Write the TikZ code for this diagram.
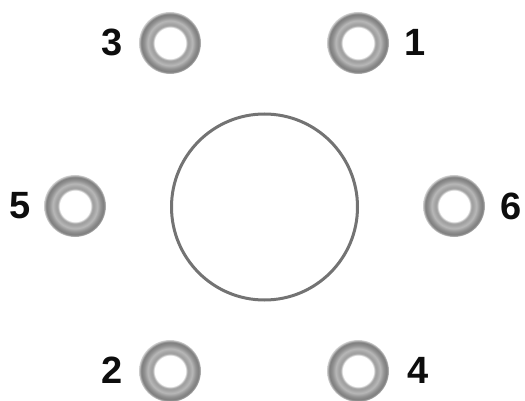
\documentclass[tikz,border=0pt]{standalone}
\usepackage{fontspec}
\setmainfont{Liberation Sans}
\pgfdeclareradialshading{ringshade}{\pgfpoint{0bp}{0bp}}{%
  color(0bp)=(white);
  color(12.3bp)=(white);
  color(14bp)=(white!66!black);
  color(15bp)=(white!62!black);
  color(18bp)=(white!72!black);
  color(21bp)=(white!56!black);
  color(23bp)=(white!50!black);
  color(24.2bp)=(white!62!black);
  color(25bp)=(white!85!black);
  color(50bp)=(white)}
\tikzset{
  washer/.style={circle,minimum size=62pt,inner sep=0pt,shade,shading=ringshade},
  num/.style={font=\fontsize{38}{38}\selectfont\bfseries,inner sep=0pt,text=black!95},
  bore/.style={circle,draw=black!55,line width=3pt,minimum size=186pt,inner sep=0pt,fill=white}
}
\begin{document}
\begin{tikzpicture}[x=1pt,y=-1pt]
\useasboundingbox (0,0) rectangle (525,401);
\node[bore] (hole) at (264.5,207) {};
\node[washer] (w1) at (358,43) {};
\node[washer] (w2) at (170,371) {};
\node[washer] (w3) at (170,43) {};
\node[washer] (w4) at (358,371) {};
\node[washer] (w5) at (75,206) {};
\node[washer] (w6) at (454,206) {};
\node[num] (n1) at (415,42) {1};
\node[num] (n2) at (112,370) {2};
\node[num] (n3) at (112,42) {3};
\node[num] (n4) at (418,370) {4};
\node[num] (n5) at (20,206) {5};
\node[num] (n6) at (511,206) {6};
\end{tikzpicture}
\end{document}
